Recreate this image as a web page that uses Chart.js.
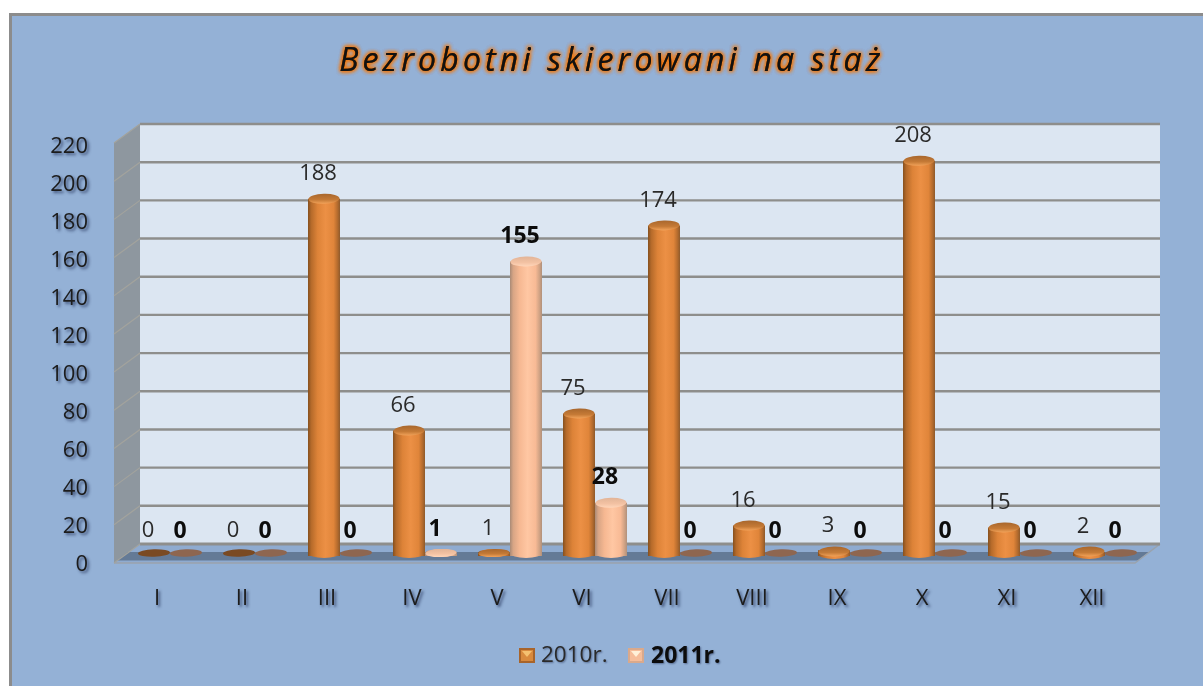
<!DOCTYPE html>
<html>
<head>
<meta charset="utf-8">
<style>html,body{margin:0;padding:0;background:#fff}canvas{display:block}</style>
<script src="https://cdn.jsdelivr.net/npm/chart.js@4/dist/chart.umd.min.js"></script>
</head>
<body>
<canvas id="c" width="1203" height="686"></canvas>
<script>
const categories = ['I','II','III','IV','V','VI','VII','VIII','IX','X','XI','XII'];
const values2010 = [0,0,188,66,1,75,174,16,3,208,15,2];
const values2011 = [0,0,0,1,155,28,0,0,0,0,0,0];
const seriesNames = ['2010r.','2011r.'];
const titleText = 'Bezrobotni skierowani na staż';

const BAR_W = 32, RX = 16, RY = 5, FLOOR_Y = 553;
const FONT = '"Open Sans", sans-serif';

const sideStops = [
  [[0,'#85501f'],[0.1,'#b56a2a'],[0.3,'#dd8338'],[0.55,'#ec9045'],[0.8,'#e0853a'],[0.92,'#b56c2e'],[1,'#8e5a2c']],
  [[0,'#a98a76'],[0.1,'#d8a585'],[0.3,'#f6b892'],[0.55,'#ffc7a3'],[0.8,'#f8ba95'],[0.92,'#d0a284'],[1,'#b0917c']]
];
const capTop = [['#a8672d','#c57a36','#f2a35a'],['#e2b497','#f3c2a3','#ffd6ba']];
const zeroCol = ['#7a4a22','#8e6650'];

function sideGrad(chart, c, ds){
  const g = chart.ctx.createLinearGradient(c-RX,0,c+RX,0);
  sideStops[ds].forEach(s=>g.addColorStop(s[0],s[1]));
  return g;
}
function barFill(ctx){
  const chart = ctx.chart;
  if(!chart.chartArea || ctx.dataIndex===undefined) return sideStops[ctx.datasetIndex][3][1];
  const c = chart.scales.x.getPixelForValue(ctx.dataIndex) + (ctx.datasetIndex===0?-BAR_W/2:BAR_W/2);
  return sideGrad(chart,c,ctx.datasetIndex);
}
function wallY(yPx){ return 544 - (556-yPx)*420/418; }

const scene = {
  id:'scene',
  beforeDraw(chart){
    const ctx = chart.ctx, y = chart.scales.y;
    if(!chart.$wrapped){
      chart.$wrapped = true;
      [chart.scales.x, chart.scales.y].forEach(s=>{
        const d = s.drawLabels;
        s.drawLabels = function(a){
          const cx = this.ctx; cx.save();
          cx.shadowColor='rgba(25,40,80,0.7)'; cx.shadowBlur=3; cx.shadowOffsetX=2; cx.shadowOffsetY=2;
          d.call(this,a); cx.restore();
        };
      });
      const t = chart.titleBlock, td = t.draw;
      t.draw = function(){
        const cx = this.ctx; cx.save();
        cx.translate(38,0);
        cx.letterSpacing='4.2px';
        cx.shadowColor='#f5780a'; cx.shadowBlur=4;
        td.call(this); td.call(this); td.call(this); td.call(this);
        cx.restore();
      };
    }
    ctx.save();
    ctx.fillStyle='#fff'; ctx.fillRect(0,0,1203,686);
    ctx.fillStyle='#94b1d6'; ctx.fillRect(10,14,1193,672);
    ctx.fillStyle='#8c8c8c';
    ctx.fillRect(9,13,1194,3); ctx.fillRect(9,13,3,673);

    const top = wallY(y.getPixelForValue(220)), bot = wallY(y.getPixelForValue(0));
    ctx.fillStyle='#dce6f2'; ctx.fillRect(140,top,1020,bot-top);
    ctx.fillStyle='#8e979f';
    ctx.beginPath(); ctx.moveTo(114,top+19); ctx.lineTo(140,top); ctx.lineTo(140,bot); ctx.lineTo(114,bot+19); ctx.closePath(); ctx.fill();
    ctx.fillStyle='#8fabd0';
    ctx.beginPath(); ctx.moveTo(140,bot); ctx.lineTo(1160,bot); ctx.lineTo(1135,bot+19); ctx.lineTo(114,bot+19); ctx.closePath(); ctx.fill();
    ctx.fillStyle='#647a96';
    ctx.beginPath(); ctx.moveTo(128,552); ctx.lineTo(1149,552); ctx.lineTo(1138,560.5); ctx.lineTo(117,560.5); ctx.closePath(); ctx.fill();
    ctx.strokeStyle='#9aa3ad'; ctx.lineWidth=1.5;
    ctx.beginPath(); ctx.moveTo(114,bot+19); ctx.lineTo(1135,bot+19); ctx.lineTo(1160,bot); ctx.stroke();
    y.ticks.forEach(t=>{
      const w = wallY(y.getPixelForValue(t.value));
      ctx.strokeStyle='#8e8e8c'; ctx.lineWidth=(t.value===0)?3:2.4;
      ctx.beginPath(); ctx.moveTo(140,w); ctx.lineTo(1160,w); ctx.stroke();
      ctx.strokeStyle='#a3a39d'; ctx.lineWidth=1.2;
      ctx.beginPath(); ctx.moveTo(114,w+19); ctx.lineTo(140,w); ctx.stroke();
    });
    ctx.restore();
  },
  afterDatasetsDraw(chart){
    const ctx = chart.ctx;
    ctx.save();
    [0,1].forEach(ds=>{
      const meta = chart.getDatasetMeta(ds), data = chart.data.datasets[ds].data;
      meta.data.forEach((bar,i)=>{
        const v = data[i], cx = bar.x;
        if(v===0){
          ctx.fillStyle=zeroCol[ds];
          ctx.beginPath(); ctx.ellipse(cx,FLOOR_Y,RX,3.8,-0.03,0,Math.PI*2); ctx.fill();
          return;
        }
        const small = v<5;
        const ry = v===1?4:RY;
        const capY = small ? FLOOR_Y-(v>1?1.5:0) : bar.y;
        ctx.fillStyle=sideGrad(chart,cx,ds);
        ctx.beginPath(); ctx.ellipse(cx,FLOOR_Y+(v===1?0:(small?1:0)),RX,ry,0,0,Math.PI*2); ctx.fill();
        const g = ctx.createLinearGradient(0,capY-ry,0,capY+ry);
        g.addColorStop(0,capTop[ds][0]); g.addColorStop(0.6,capTop[ds][1]); g.addColorStop(1,capTop[ds][2]);
        ctx.fillStyle=g;
        ctx.beginPath(); ctx.ellipse(cx,capY,RX-0.5,ry,-0.03,0,Math.PI*2); ctx.fill();
      });
    });
    ctx.textAlign='center'; ctx.textBaseline='middle';
    [0,1].forEach(ds=>{
      const meta = chart.getDatasetMeta(ds), data = chart.data.datasets[ds].data;
      ctx.font = (ds===1?'bold 23px ':'22px ')+FONT;
      ctx.fillStyle = ds===1?'#0c0c0c':'#2a2a2a';
      meta.data.forEach((bar,i)=>{
        ctx.fillText(String(data[i]), bar.x-6, bar.y-25);
      });
    });
    const items = [{x:519,tx:541,ds:0},{x:628,tx:651,ds:1}];
    items.forEach(it=>{
      const c = it.ds===0?['#a8642a','#d98a3e','#f5c070']:['#d9a98c','#f6bd9a','#fff0d8'];
      ctx.fillStyle=c[0]; ctx.fillRect(it.x,648,16,15);
      ctx.fillStyle=c[1]; ctx.fillRect(it.x+2,650,12,11);
      ctx.fillStyle=c[2];
      ctx.beginPath(); ctx.moveTo(it.x+3,651); ctx.lineTo(it.x+13,651); ctx.lineTo(it.x+8,657); ctx.closePath(); ctx.fill();
      ctx.save();
      ctx.shadowColor='rgba(25,40,80,0.5)'; ctx.shadowBlur=2; ctx.shadowOffsetX=1; ctx.shadowOffsetY=1;
      ctx.textAlign='left';
      ctx.font=(it.ds===1?'bold 23px ':'22.5px ')+FONT;
      ctx.fillStyle=it.ds===1?'#0c0c0c':'#2a2a2a';
      ctx.fillText(seriesNames[it.ds], it.tx, 656);
      ctx.restore();
    });
    ctx.restore();
  }
};

new Chart(document.getElementById('c'),{
  type:'bar',
  plugins:[scene],
  data:{
    labels:categories,
    datasets:[
      {label:seriesNames[0],data:values2010,backgroundColor:barFill,categoryPercentage:64/85,barPercentage:1},
      {label:seriesNames[1],data:values2011,backgroundColor:barFill,categoryPercentage:64/85,barPercentage:1}
    ]
  },
  options:{
    responsive:false,
    animation:false,
    layout:{padding:{left:0,right:55.5,top:0,bottom:0}},
    plugins:{
      legend:{display:false},
      tooltip:{enabled:false},
      title:{display:true,text:titleText,color:'#111',
        font:{family:FONT,size:32,style:'italic',weight:'normal',lineHeight:1.2},
        padding:{top:43,bottom:56.6}}
    },
    scales:{
      x:{
        grid:{display:false,drawTicks:false},border:{display:false},
        ticks:{color:'#1c1c1c',font:{family:FONT,size:22},padding:30,labelOffset:-13,maxRotation:0,autoSkip:false},
        afterFit(s){s.height=130;}
      },
      y:{
        min:0,max:220,
        grid:{display:false,drawTicks:false},border:{display:false},
        ticks:{stepSize:20,color:'#1c1c1c',font:{family:FONT,size:22},padding:39.5,labelOffset:8.5},
        afterFit(s){s.width=127.5;}
      }
    }
  }
});
</script>
</body>
</html>
